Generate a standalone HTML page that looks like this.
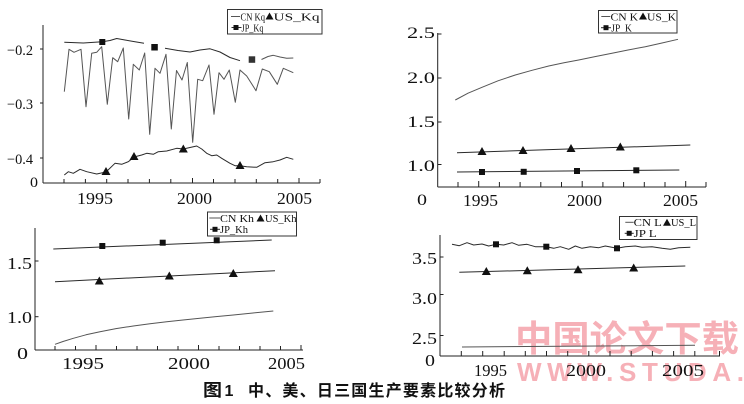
<!DOCTYPE html>
<html><head><meta charset="utf-8"><style>
html,body{margin:0;padding:0;background:#fff;}
svg{display:block;}
.t{font-family:"Liberation Serif",serif;fill:#111;}
.lg{font-family:"Liberation Serif",serif;fill:#111;font-size:11px;}
.ax{stroke:#222;stroke-width:1;fill:none;}
.s{stroke:#2a2a2a;stroke-width:1;fill:none;stroke-linejoin:round;}
.c{stroke:#555;stroke-width:1;fill:none;stroke-linejoin:round;}
</style></head><body>
<svg width="744" height="404" viewBox="0 0 744 404" xmlns="http://www.w3.org/2000/svg">
<rect width="744" height="404" fill="#fff"/>

<!-- watermark -->
<text x="515" y="351" font-family="'Noto Sans CJK SC',sans-serif" font-weight="bold" font-size="36" fill="#f6b0b7" textLength="224" lengthAdjust="spacingAndGlyphs">中国论文下载</text>
<text x="517" y="381" font-family="'Liberation Sans',sans-serif" font-weight="bold" font-size="26" fill="#f6b0b7" textLength="227" lengthAdjust="spacing">WWW.STUDA.</text>

<!-- ========== TOP LEFT ========== -->
<line class="ax" x1="43" y1="25" x2="43" y2="183"/>
<line class="ax" x1="43" y1="183" x2="320" y2="183"/>
<g class="ax">
<line x1="64" y1="179" x2="64" y2="183"/><line x1="85.4" y1="179" x2="85.4" y2="183"/><line x1="106.7" y1="179" x2="106.7" y2="183"/><line x1="128" y1="179" x2="128" y2="183"/><line x1="149.4" y1="179" x2="149.4" y2="183"/><line x1="170.8" y1="179" x2="170.8" y2="183"/><line x1="192.5" y1="178" x2="192.5" y2="183"/><line x1="213.5" y1="179" x2="213.5" y2="183"/><line x1="235" y1="179" x2="235" y2="183"/><line x1="256.3" y1="179" x2="256.3" y2="183"/><line x1="277.7" y1="179" x2="277.7" y2="183"/><line x1="299" y1="178" x2="299" y2="183"/><line x1="320" y1="179" x2="320" y2="183"/>
<line x1="40" y1="49" x2="43" y2="49"/><line x1="40" y1="103" x2="43" y2="103"/><line x1="40" y1="158" x2="43" y2="158"/>
</g>
<text class="t" x="7" y="55" font-size="15" textLength="26" lengthAdjust="spacingAndGlyphs">−0.2</text>
<text class="t" x="7" y="109" font-size="15" textLength="26" lengthAdjust="spacingAndGlyphs">−0.3</text>
<text class="t" x="7" y="164" font-size="15" textLength="26" lengthAdjust="spacingAndGlyphs">−0.4</text>
<text class="t" x="30" y="187" font-size="15" textLength="8" lengthAdjust="spacingAndGlyphs">0</text>
<text class="t" x="77" y="204" font-size="17" textLength="36" lengthAdjust="spacingAndGlyphs">1995</text>
<text class="t" x="177" y="204" font-size="17" textLength="35" lengthAdjust="spacingAndGlyphs">2000</text>
<text class="t" x="277" y="204" font-size="17" textLength="35" lengthAdjust="spacingAndGlyphs">2005</text>

<!-- CN Kq zigzag -->
<polyline class="c" points="64.3,91.7 69,49.3 74,52.3 81,49.3 86,106.7 91.7,53.3 96.7,52.3 101.7,46.7 107.3,104.3 112.7,57.7 117.7,61.7 123.3,48 128.7,119 133.3,64.3 139.3,70 144.7,53 149.7,134.3 155,68.3 160,73.3 166,54.3 171.3,129 176.5,70.5 182,80 187.3,62.5 192.7,142.3 197.7,79.3 202.7,80.7 209,65 214,114.3 219,72.7 224,79.3 229.3,70 235.3,102.3 240,70 246.7,76 256,90.7 262.3,69 269.3,71.7 277.3,84.3 283.3,68.3 293.3,72.7"/>
<!-- JP Kq -->
<polyline class="s" points="64.3,42.3 83.3,43 102.3,41.8 110,40.5 116.7,38.5 125,40 135,41.8 144,43.3"/>
<polyline class="s" points="165,48.3 178,50.5 190,52 200,50 210,48.8 220,52 230,57.5 240,60.7"/>
<polyline class="c" points="261.5,59.5 268,56.5 273.3,55.3 280,57 286.7,58.3 293.3,58"/>
<rect x="99.3" y="39" width="6" height="6" fill="#111"/>
<rect x="151.3" y="44" width="6.5" height="6.5" fill="#111"/>
<rect x="248.7" y="56.3" width="6.5" height="6.5" fill="#333"/>
<!-- US Kq -->
<polyline class="s" points="64.3,175 68.3,171.7 73.3,173.3 80,169.3 86.7,171.7 96.7,174 106,172 115,163.3 121.7,164.3 128.3,161.7 134,157 141.7,155 146.7,153.3 153.3,154.3 158.3,151.7 166.7,151 176.7,148.3 183.3,149 190,147.5 196.7,146 201.7,149 206.7,153.3 211.7,155.7 216.7,155 221.7,158.3 230,163.3 235,165.7 240,165.7 246.7,166.7 256.7,167.3 265,162.7 273.3,161.7 280,160 286.7,157.3 293.3,159.3"/>
<polygon points="106,167 101.5,175 110.5,175" fill="#111"/>
<polygon points="134,152 129.5,160 138.5,160" fill="#111"/>
<polygon points="183.3,144.5 178.8,152.5 187.8,152.5" fill="#111"/>
<polygon points="240,161 235.5,169 244.5,169" fill="#111"/>
<!-- legend TL -->
<rect x="227.5" y="9.5" width="94.5" height="24.5" fill="#fff" stroke="#333" stroke-width="1"/>
<line class="c" x1="231" y1="16.5" x2="240" y2="16.5"/>
<text class="lg" x="240.5" y="20.5" textLength="24.5" lengthAdjust="spacingAndGlyphs">CN Kq</text>
<polygon points="269.5,12.5 265.5,19.5 273.5,19.5" fill="#111"/>
<text class="lg" x="273.5" y="20.5" textLength="46" lengthAdjust="spacingAndGlyphs">US_Kq</text>
<line class="s" x1="231.5" y1="27.5" x2="241.5" y2="27.5"/>
<rect x="233.5" y="25" width="5" height="5" fill="#111"/>
<text class="lg" x="241.5" y="31.5" textLength="22" lengthAdjust="spacingAndGlyphs">JP_Kq</text>

<!-- ========== TOP RIGHT ========== -->
<line class="ax" x1="437.7" y1="33" x2="437.7" y2="187"/>
<line class="ax" x1="437.7" y1="187" x2="706" y2="187"/>
<g class="ax">
<line x1="458" y1="182" x2="458" y2="187"/><line x1="478.7" y1="181" x2="478.7" y2="187"/><line x1="499.4" y1="182" x2="499.4" y2="187"/><line x1="520.1" y1="182" x2="520.1" y2="187"/><line x1="540.8" y1="182" x2="540.8" y2="187"/><line x1="561.5" y1="182" x2="561.5" y2="187"/><line x1="582.2" y1="181" x2="582.2" y2="187"/><line x1="602.9" y1="182" x2="602.9" y2="187"/><line x1="623.6" y1="182" x2="623.6" y2="187"/><line x1="644.3" y1="182" x2="644.3" y2="187"/><line x1="665" y1="182" x2="665" y2="187"/><line x1="685.7" y1="181" x2="685.7" y2="187"/><line x1="706" y1="182" x2="706" y2="187"/>
<line x1="437.7" y1="34" x2="441.5" y2="34"/><line x1="437.7" y1="78" x2="441.5" y2="78"/><line x1="437.7" y1="122" x2="441.5" y2="122"/><line x1="437.7" y1="164.5" x2="441.5" y2="164.5"/>
</g>
<text class="t" x="407" y="38" font-size="16" textLength="28" lengthAdjust="spacingAndGlyphs">2.5</text>
<text class="t" x="407" y="83" font-size="16" textLength="28" lengthAdjust="spacingAndGlyphs">2.0</text>
<text class="t" x="407" y="127" font-size="16" textLength="28" lengthAdjust="spacingAndGlyphs">1.5</text>
<text class="t" x="407" y="171" font-size="16" textLength="28" lengthAdjust="spacingAndGlyphs">1.0</text>
<text class="t" x="417" y="205" font-size="16" textLength="10" lengthAdjust="spacingAndGlyphs">0</text>
<text class="t" x="463" y="206" font-size="17" textLength="35" lengthAdjust="spacingAndGlyphs">1995</text>
<text class="t" x="567" y="206" font-size="17" textLength="35" lengthAdjust="spacingAndGlyphs">2000</text>
<text class="t" x="663" y="206" font-size="17" textLength="35" lengthAdjust="spacingAndGlyphs">2005</text>
<!-- CN K -->
<polyline class="c" points="455.3,100 468,93.2 482,87.3 498,80.8 515.3,75 532,70.3 548.7,66 564,62.8 578.7,60 595,56.6 612,53.3 628,50 645.3,46.7 662,43 678,39.3"/>
<!-- US K -->
<line class="s" x1="457" y1="152.7" x2="690.3" y2="145"/>
<polygon points="482,147 477.5,155 486.5,155" fill="#111"/>
<polygon points="523,146 518.5,154 527.5,154" fill="#111"/>
<polygon points="571,144 566.5,152 575.5,152" fill="#111"/>
<polygon points="620.3,142.5 615.8,150.5 624.8,150.5" fill="#111"/>
<!-- JP K -->
<line class="s" x1="457" y1="172" x2="679.3" y2="170"/>
<rect x="479" y="169" width="6" height="6" fill="#111"/>
<rect x="520.7" y="168.8" width="6" height="6" fill="#111"/>
<rect x="574" y="168" width="6" height="6" fill="#111"/>
<rect x="633.3" y="167.3" width="6" height="6" fill="#111"/>
<!-- legend TR -->
<rect x="598.5" y="10.5" width="78.5" height="22.5" fill="#fff" stroke="#333" stroke-width="1"/>
<line class="c" x1="601.3" y1="16.5" x2="610.3" y2="16.5"/>
<text class="lg" x="610.5" y="20.5" textLength="27.5" lengthAdjust="spacingAndGlyphs">CN K</text>
<polygon points="643,12.5 639,19.5 647,19.5" fill="#111"/>
<text class="lg" x="647" y="20.5" textLength="29" lengthAdjust="spacingAndGlyphs">US_K</text>
<line class="s" x1="601" y1="27.7" x2="611" y2="27.7"/>
<rect x="603.5" y="25.2" width="5" height="5" fill="#111"/>
<text class="lg" x="611.3" y="31.5" textLength="20.5" lengthAdjust="spacingAndGlyphs">JP_K</text>

<!-- ========== BOTTOM LEFT ========== -->
<line class="ax" x1="35" y1="228" x2="35" y2="350"/>
<line class="ax" x1="35" y1="350" x2="303" y2="350"/>
<g class="ax">
<line x1="55" y1="346" x2="55" y2="350"/><line x1="75.5" y1="346" x2="75.5" y2="350"/><line x1="96" y1="345" x2="96" y2="350"/><line x1="116.5" y1="346" x2="116.5" y2="350"/><line x1="137" y1="346" x2="137" y2="350"/><line x1="157.5" y1="346" x2="157.5" y2="350"/><line x1="178" y1="346" x2="178" y2="350"/><line x1="198.5" y1="345" x2="198.5" y2="350"/><line x1="219" y1="346" x2="219" y2="350"/><line x1="239.5" y1="346" x2="239.5" y2="350"/><line x1="260" y1="346" x2="260" y2="350"/><line x1="280.5" y1="346" x2="280.5" y2="350"/><line x1="301" y1="345" x2="301" y2="350"/>
<line x1="35" y1="261" x2="38.5" y2="261"/><line x1="35" y1="316.7" x2="38.5" y2="316.7"/>
</g>
<text class="t" x="7" y="269" font-size="17" textLength="25" lengthAdjust="spacingAndGlyphs">1.5</text>
<text class="t" x="7" y="323" font-size="17" textLength="25" lengthAdjust="spacingAndGlyphs">1.0</text>
<text class="t" x="17" y="359" font-size="17" textLength="11" lengthAdjust="spacingAndGlyphs">0</text>
<text class="t" x="62" y="369" font-size="17" textLength="42" lengthAdjust="spacingAndGlyphs">1995</text>
<text class="t" x="168" y="369" font-size="17" textLength="42" lengthAdjust="spacingAndGlyphs">2000</text>
<text class="t" x="268" y="369" font-size="17" textLength="37" lengthAdjust="spacingAndGlyphs">2005</text>
<!-- JP Kh -->
<line class="s" x1="53.3" y1="249" x2="271.7" y2="240"/>
<rect x="99.3" y="243" width="6" height="6" fill="#111"/>
<rect x="159.7" y="239.7" width="6" height="6" fill="#111"/>
<rect x="213.7" y="237.3" width="6" height="6" fill="#111"/>
<!-- US Kh -->
<line class="s" x1="55" y1="281.7" x2="275" y2="270.7"/>
<polygon points="99.3,276.5 94.8,284.5 103.8,284.5" fill="#111"/>
<polygon points="169.3,271.5 164.8,279.5 173.8,279.5" fill="#111"/>
<polygon points="233.3,269 228.8,277 237.8,277" fill="#111"/>
<!-- CN Kh -->
<polyline class="c" points="55,344.3 63,341.5 73.3,338.3 86,334.8 100,331.7 116,328.6 133.3,326 150,323.8 166.7,321.7 183,320 200,318.3 216,316.6 233.3,315 253,313 273.3,311"/>
<!-- legend BL -->
<rect x="207.5" y="212" width="89" height="24" fill="#fff" stroke="#333" stroke-width="1"/>
<line class="c" x1="209.3" y1="218" x2="220" y2="218"/>
<text class="lg" x="220" y="222" textLength="34" lengthAdjust="spacingAndGlyphs">CN Kh</text>
<polygon points="260.5,214.5 256.5,221.5 264.5,221.5" fill="#111"/>
<text class="lg" x="265" y="222" textLength="31.5" lengthAdjust="spacingAndGlyphs">US_Kh</text>
<line class="s" x1="210" y1="229.3" x2="220" y2="229.3"/>
<rect x="212.5" y="226.8" width="5" height="5" fill="#111"/>
<text class="lg" x="220" y="233" textLength="28" lengthAdjust="spacingAndGlyphs">JP_Kh</text>

<!-- ========== BOTTOM RIGHT ========== -->
<line class="ax" x1="440" y1="235" x2="440" y2="356"/>
<line class="ax" x1="440" y1="356" x2="720" y2="356"/>
<g class="ax">
<line x1="461.3" y1="351" x2="461.3" y2="356"/><line x1="482.7" y1="351" x2="482.7" y2="356"/><line x1="504.2" y1="351" x2="504.2" y2="356"/><line x1="525.3" y1="351" x2="525.3" y2="356"/><line x1="546.5" y1="351" x2="546.5" y2="356"/><line x1="567.7" y1="351" x2="567.7" y2="356"/><line x1="588.8" y1="351" x2="588.8" y2="356"/><line x1="610" y1="351" x2="610" y2="356"/><line x1="631.2" y1="351" x2="631.2" y2="356"/><line x1="652.4" y1="351" x2="652.4" y2="356"/><line x1="673.6" y1="351" x2="673.6" y2="356"/><line x1="694.8" y1="351" x2="694.8" y2="356"/><line x1="719.5" y1="351" x2="719.5" y2="356"/>
<line x1="440" y1="257" x2="443.5" y2="257"/><line x1="440" y1="294.5" x2="443.5" y2="294.5"/><line x1="440" y1="335.5" x2="443.5" y2="335.5"/>
</g>
<text class="t" x="412" y="264" font-size="17" textLength="25" lengthAdjust="spacingAndGlyphs">3.5</text>
<text class="t" x="412" y="304" font-size="17" textLength="25" lengthAdjust="spacingAndGlyphs">3.0</text>
<text class="t" x="412" y="344" font-size="17" textLength="25" lengthAdjust="spacingAndGlyphs">2.5</text>
<text class="t" x="425" y="366" font-size="17" textLength="10" lengthAdjust="spacingAndGlyphs">0</text>
<text class="t" x="474" y="376" font-size="17" textLength="33" lengthAdjust="spacingAndGlyphs">1995</text>
<text class="t" x="566" y="376" font-size="17" textLength="40" lengthAdjust="spacingAndGlyphs">2000</text>
<text class="t" x="662" y="376" font-size="17" textLength="42" lengthAdjust="spacingAndGlyphs">2005</text>
<!-- JP L -->
<polyline class="s" points="452,244.3 459.3,245.7 467,242.7 473.7,245 482,244 488.7,246 496,244.3 503.7,245 512,242.7 518.7,245.3 527,244.3 535.3,246.7 546.3,246.7 553.7,248.3 560.3,246.7 568.7,249.3 575.3,246 582,248.3 590.3,246.7 598.7,247.7 605.3,246 617,248.3 625.3,246.7 635.3,246 642,247.3 652,246.7 662,248.3 670.3,249.3 678.7,247.7 690.3,247.3"/>
<rect x="493" y="241.3" width="6" height="6" fill="#111"/>
<rect x="543.3" y="243.7" width="6" height="6" fill="#111"/>
<rect x="614" y="245.3" width="6" height="6" fill="#111"/>
<!-- US L -->
<line class="s" x1="459.3" y1="272.3" x2="685.3" y2="266"/>
<polygon points="486.3,267 481.8,275 490.8,275" fill="#111"/>
<polygon points="527.3,266.3 522.8,274.3 531.8,274.3" fill="#111"/>
<polygon points="578,265.3 573.5,273.3 582.5,273.3" fill="#111"/>
<polygon points="633.7,263.5 629.2,271.5 638.2,271.5" fill="#111"/>
<!-- CN L -->
<line class="c" x1="462" y1="347" x2="695" y2="345.3"/>
<!-- legend BR -->
<rect x="619.5" y="216.5" width="77.5" height="23" fill="#fff" stroke="#333" stroke-width="1"/>
<line class="c" x1="625.3" y1="222.3" x2="633.7" y2="222.3"/>
<text class="lg" x="633.7" y="226" textLength="28" lengthAdjust="spacingAndGlyphs">CN L</text>
<polygon points="667,218.8 663,225.8 671,225.8" fill="#111"/>
<text class="lg" x="671" y="226" textLength="25" lengthAdjust="spacingAndGlyphs">US_L</text>
<line class="s" x1="624.7" y1="233.3" x2="633.7" y2="233.3"/>
<rect x="626.7" y="230.8" width="5" height="5" fill="#111"/>
<text class="lg" x="633.7" y="237" textLength="23" lengthAdjust="spacingAndGlyphs">JP L</text>

<!-- caption -->
<text x="203" y="396" font-family="'Noto Sans CJK SC',sans-serif" font-weight="bold" font-size="17" fill="#111" textLength="19" lengthAdjust="spacingAndGlyphs">图</text>
<text x="224.5" y="396" font-family="'Liberation Sans',sans-serif" font-weight="bold" font-size="16" fill="#111">1</text>
<text x="248" y="396" font-family="'Liberation Sans','Noto Sans CJK SC',sans-serif" font-weight="bold" font-size="16" fill="#111" textLength="257" lengthAdjust="spacing">中、美、日三国生产要素比较分析</text>
</svg>
</body></html>
